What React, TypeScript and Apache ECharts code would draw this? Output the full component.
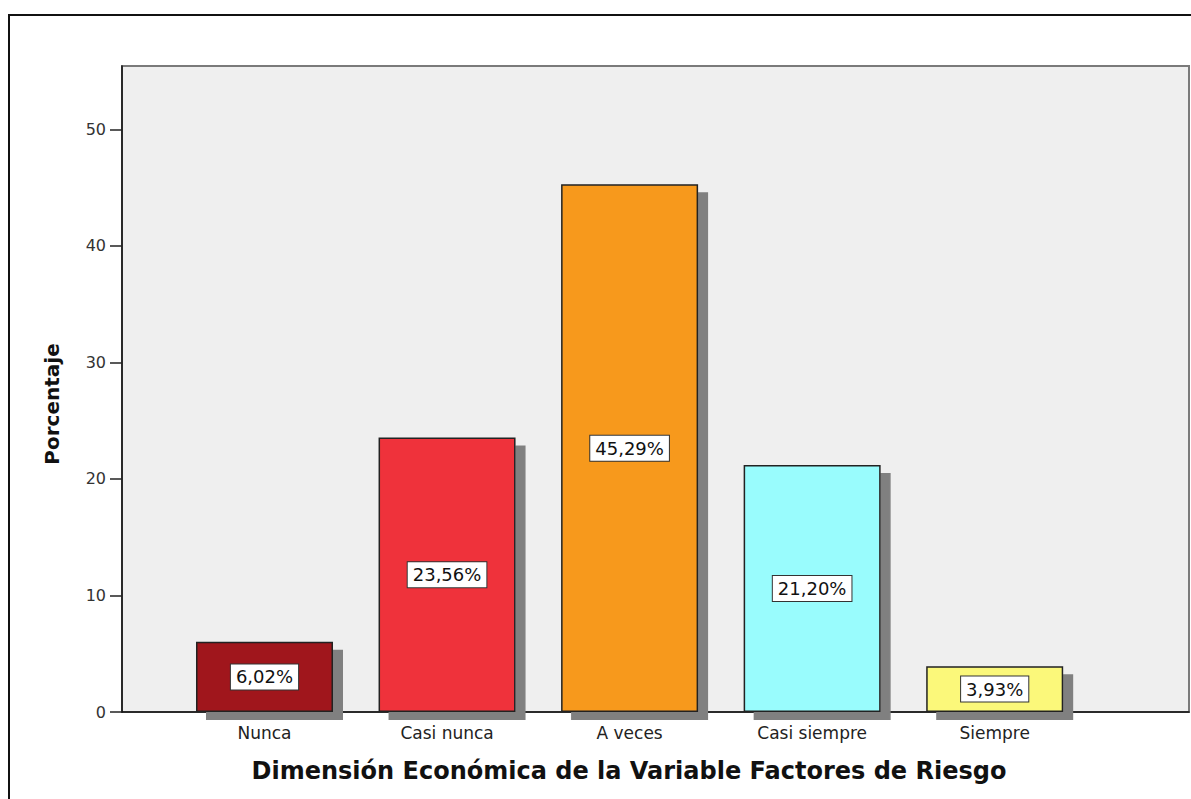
import React, { useEffect, useRef } from "react";
import * as echarts from "echarts";

const categories = ["Nunca", "Casi nunca", "A veces", "Casi siempre", "Siempre"];
const percentages = [6.02, 23.56, 45.29, 21.2, 3.93];
const barColors = ["#A0161B", "#EF323A", "#F7991E", "#99FCFD", "#FBF87A"];
const yTicks = [0, 10, 20, 30, 40, 50];
const xTitle = "Dimensión Económica de la Variable Factores de Riesgo";
const yTitle = "Porcentaje";

const FONT = "'DejaVu Sans', sans-serif";

export default function App() {
  const ref = useRef<HTMLDivElement>(null);

  useEffect(() => {
    if (!ref.current) return;
    const chart = echarts.init(ref.current, null, { renderer: "svg" });
    const positions = categories.map((_, i) => i + 1);
    chart.setOption({
      animation: false,
      backgroundColor: "#ffffff",
      grid: {
        left: 122,
        top: 66,
        right: 2,
        bottom: 87,
        show: true,
        backgroundColor: "#EFEFEF",
        borderColor: "#7a7a7a",
        borderWidth: 2,
      },
      xAxis: {
        type: "value",
        min: 0.2194,
        max: 6.0644,
        splitLine: { show: false },
        axisLine: { show: true, onZero: false, lineStyle: { color: "#111", width: 1.5 } },
        axisTick: {
          show: true,
          customValues: positions,
          length: 6,
          lineStyle: { color: "#555", width: 1.5 },
        },
        axisLabel: {
          customValues: positions,
          formatter: (v: number) => categories[Math.round(v) - 1] ?? "",
          margin: 12,
          fontFamily: FONT,
          fontSize: 17,
          color: "#222",
        },
      },
      yAxis: {
        type: "value",
        min: 0,
        max: 55.45,
        interval: 10,
        splitLine: { show: false },
        axisLine: { show: true, lineStyle: { color: "#111", width: 1.5 } },
        axisTick: {
          show: true,
          customValues: yTicks,
          length: 12,
          lineStyle: { color: "#222", width: 1.5 },
        },
        axisLabel: {
          customValues: yTicks,
          margin: 16,
          fontFamily: FONT,
          fontSize: 16,
          color: "#333",
        },
      },
      series: [
        {
          type: "bar",
          barWidth: 137,
          data: percentages.map((v, i) => ({
            value: [positions[i], v],
            itemStyle: { color: barColors[i] },
          })),
          itemStyle: {
            borderColor: "#222",
            borderWidth: 1.5,
            shadowColor: "#808080",
            shadowBlur: 0,
            shadowOffsetX: 10,
            shadowOffsetY: 8,
          },
          label: {
            show: true,
            position: "inside",
            formatter: (p: any) => p.value[1].toFixed(2).replace(".", ",") + "%",
            fontFamily: FONT,
            fontSize: 18,
            color: "#111",
            backgroundColor: "#ffffff",
            borderColor: "#333",
            borderWidth: 1,
            padding: [4, 5, 3, 5],
          },
        },
      ],
      graphic: [
        {
          type: "rect",
          silent: true,
          shape: { x: 9, y: 15, width: 1400, height: 1000 },
          style: { fill: "none", stroke: "#111", lineWidth: 2 },
        },
        {
          type: "text",
          x: 52,
          y: 404,
          rotation: Math.PI / 2,
          style: {
            text: yTitle,
            fontFamily: FONT,
            fontWeight: "bold",
            fontSize: 20,
            fill: "#111",
            align: "center",
            verticalAlign: "middle",
          },
        },
        {
          type: "text",
          x: 629,
          y: 771,
          style: {
            text: xTitle,
            fontFamily: FONT,
            fontWeight: "bold",
            fontSize: 24,
            fill: "#111",
            align: "center",
            verticalAlign: "middle",
          },
        },
      ],
    });
    return () => chart.dispose();
  }, []);

  return (
    <div
      ref={ref}
      style={{ position: "fixed", left: 0, top: 0, width: 1191, height: 799 }}
    />
  );
}
